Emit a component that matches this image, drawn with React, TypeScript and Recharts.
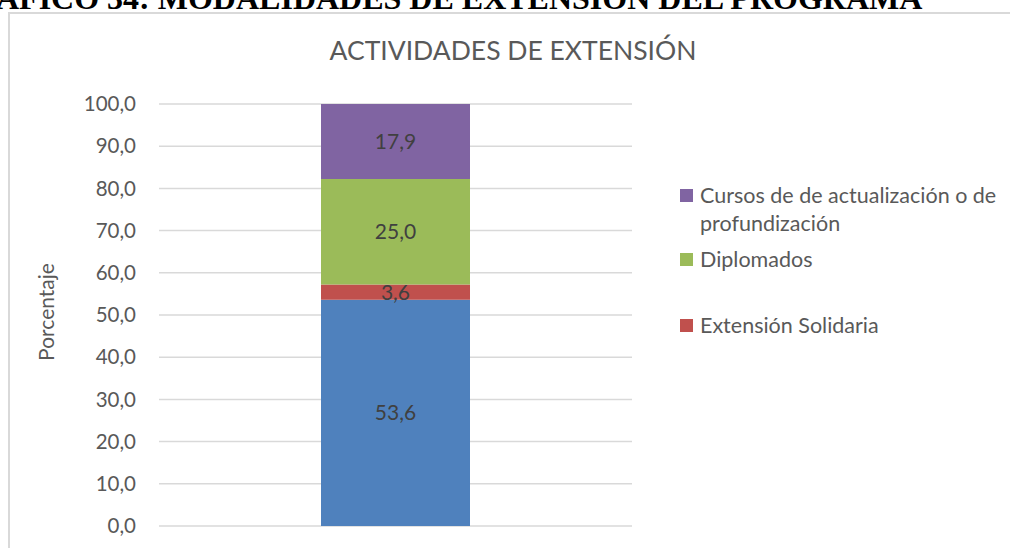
import React from "react";
import {
  Bar,
  BarChart,
  CartesianGrid,
  LabelList,
  XAxis,
  YAxis,
} from "recharts";

const categories = ["Actividades"];
const extensionSolidaria = [3.6];
const otros = [53.6];
const diplomados = [25.0];
const cursos = [17.9];
const yTicks = [0, 10, 20, 30, 40, 50, 60, 70, 80, 90, 100];

const series = [
  { key: "otros", name: "Otros", values: otros, color: "#4f81bd", legend: false },
  { key: "solidaria", name: "Extensión Solidaria", values: extensionSolidaria, color: "#c0504d", legend: true },
  { key: "diplomados", name: "Diplomados", values: diplomados, color: "#9bbb59", legend: true },
  { key: "cursos", name: "Cursos de de actualización o de profundización", values: cursos, color: "#8064a2", legend: true },
];

const data = categories.map((c, i) => {
  const row: Record<string, string | number> = { name: c };
  series.forEach((s) => (row[s.key] = s.values[i]));
  return row;
});

const font = "Lato, 'Open Sans', sans-serif";
const fmt = (v: number) => v.toFixed(1).replace(".", ",");

// legend sits right of the plot, top series first (like Excel)
function LegendBox() {
  const items = series.filter((s) => s.legend).reverse();
  const tops = [181, 245, 311];
  return (
    <div style={{ position: "absolute", left: 680, top: 0, width: 330, height: 548, fontFamily: font, fontSize: 21.5, color: "#595959" }}>
      {items.map((s, i) => (
        <div key={s.key} style={{ position: "absolute", top: tops[i], left: 0, display: "flex", alignItems: "flex-start", lineHeight: "28px" }}>
          <span style={{ width: 13, height: 13, background: s.color, marginTop: 8, marginRight: 7, flex: "none" }} />
          <span style={{ width: 318 }}>{s.name}</span>
        </div>
      ))}
    </div>
  );
}

export default function App() {
  return (
    <div style={{ position: "absolute", left: 0, top: 0, width: 1010, height: 548, overflow: "hidden", background: "#fff" }}>
      <div
        style={{
          position: "absolute",
          left: -4,
          top: -20,
          whiteSpace: "nowrap",
          fontFamily: "'Liberation Serif', 'Times New Roman', serif",
          fontWeight: "bold",
          fontSize: 32,
          color: "#000",
        }}
      >
        ÁFICO 34: MODALIDADES DE EXTENSIÓN DEL PROGRAMA
      </div>
      <div style={{ position: "absolute", left: 8, top: 12, width: 1010, height: 560, border: "2px solid #d9d9d9", boxSizing: "border-box" }} />
      <div style={{ position: "absolute", left: 0, top: 34, width: 1026, textAlign: "center", fontFamily: font, fontSize: 26.5, color: "#595959" }}>
        ACTIVIDADES DE EXTENSIÓN
      </div>
      <div
        style={{
          position: "absolute",
          left: 45,
          top: 312,
          transform: "translate(-50%, -50%) rotate(-90deg)",
          whiteSpace: "nowrap",
          fontFamily: font,
          fontSize: 21,
          color: "#595959",
        }}
      >
        Porcentaje
      </div>
      <div style={{ position: "absolute", left: 0, top: 0 }}>
        <BarChart
          width={1010}
          height={548}
          data={data}
          margin={{ top: 104, right: 378, bottom: 22, left: 79 }}
          style={{ fontFamily: font }}
        >
          <CartesianGrid vertical={false} stroke="#d9d9d9" strokeWidth={1.5} />
          <XAxis dataKey="name" hide />
          <YAxis
            width={80}
            domain={[0, 100]}
            ticks={yTicks}
            allowDataOverflow
            tickFormatter={fmt}
            tickLine={false}
            axisLine={false}
            tickSize={0}
            tickMargin={23}
            tick={{ fill: "#595959", fontSize: 20.5 }}
          />
          {series.map((s) => (
            <Bar key={s.key} dataKey={s.key} name={s.name} stackId="a" fill={s.color} barSize={149} isAnimationActive={false}>
              <LabelList dataKey={s.key} position="center" formatter={(v: number) => fmt(v)} fill="#404040" fontSize={21} />
            </Bar>
          ))}
        </BarChart>
      </div>
      <LegendBox />
    </div>
  );
}
